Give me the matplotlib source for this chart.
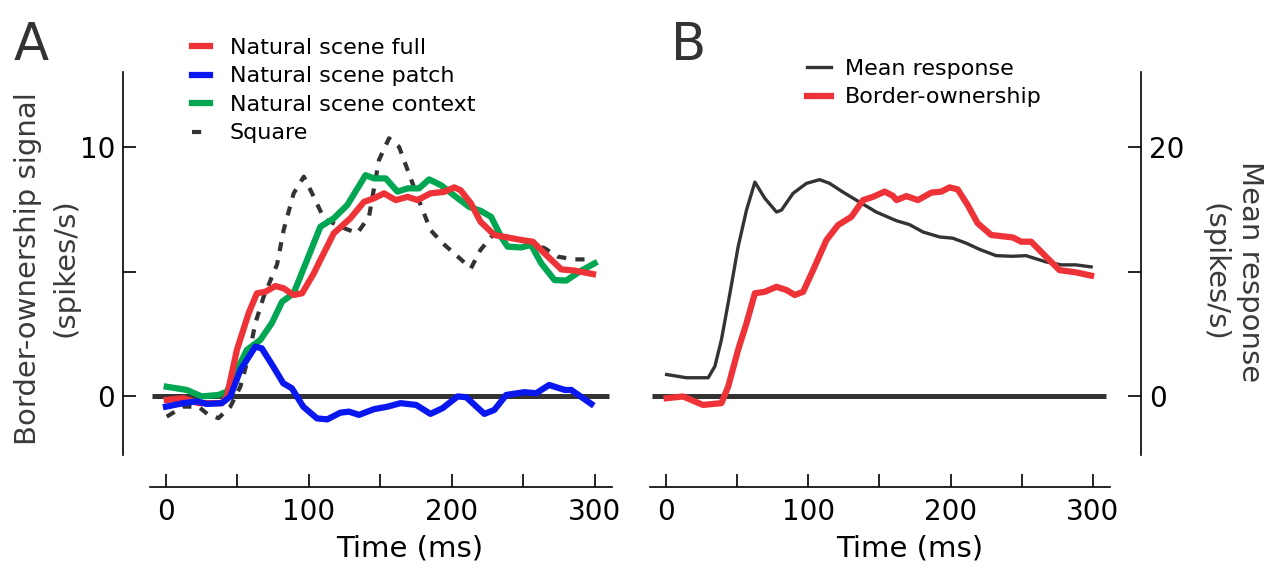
import numpy as np
import matplotlib.pyplot as plt

plt.rcParams['font.family'] = ['DejaVu Sans']
plt.rcParams['lines.solid_joinstyle'] = 'round'
plt.rcParams['lines.dash_joinstyle'] = 'round'

# --- Panel A: border-ownership signal (spikes/s) ---
full_t = [0.5, 12, 22.7, 39, 42.6, 49.6, 57.8, 63.6, 69.5, 76.5, 82.3, 89.3, 95.2, 103.4, 108, 117.4,
          129, 138.5, 145.5, 152.5, 160.7, 169, 176, 185, 194.6, 201.6, 206, 213.3, 220, 229.7, 239,
          248.4, 256.6, 264.8, 276.5, 285.8, 298.7]
full_v = [-0.14, -0.07, -0.27, -0.27, 0.0, 1.87, 3.34, 4.14, 4.2, 4.43, 4.34, 4.07, 4.14, 4.94, 5.48, 6.55,
          7.15, 7.81, 7.95, 8.15, 7.88, 8.01, 7.88, 8.15, 8.21, 8.39, 8.28, 7.75, 7.01, 6.48, 6.38,
          6.28, 6.21, 5.74, 5.1, 5.05, 4.91]

patch_t = [0, 12, 21.5, 28.5, 39, 45, 52, 62.5, 67, 75, 82, 88, 96, 105.6, 112.8, 122, 128, 135, 145.5,
           155, 164, 175, 185, 193.5, 204, 210, 222.7, 229.7, 238, 250.7, 259, 268, 279, 283.5, 297.5]
patch_v = [-0.41, -0.27, -0.2, -0.3, -0.27, 0.0, 1.06, 2.0, 1.93, 1.2, 0.53, 0.33, -0.41, -0.88, -0.92,
           -0.65, -0.61, -0.74, -0.51, -0.41, -0.27, -0.34, -0.70, -0.47, 0.0, -0.03, -0.70, -0.54, 0.06,
           0.17, 0.13, 0.46, 0.26, 0.26, -0.30]

context_t = [0.5, 14.5, 25, 36.7, 42.6, 49.6, 56.6, 66, 74, 81.2, 89.3, 98.7, 108, 117.4, 126.8, 139.6,
             145.5, 153.7, 161.9, 169, 177, 184, 192.3, 202.8, 212, 220, 227.4, 234.4, 239, 248.4, 255.4,
             262.5, 271.8, 280, 289.3, 299.8]
context_v = [0.39, 0.26, 0.0, 0.06, 0.19, 1.06, 1.87, 2.27, 2.94, 3.8, 4.14, 5.48, 6.81, 7.15, 7.68, 8.88,
             8.75, 8.75, 8.22, 8.35, 8.35, 8.71, 8.48, 8.01, 7.61, 7.45, 7.21, 6.41, 6.01, 5.98, 6.08,
             5.34, 4.67, 4.65, 5.01, 5.34]

square_t = [0.5, 12, 22.7, 29.7, 36.7, 45, 52, 57.8, 62.5, 68.3, 77.7, 82.3, 89.3, 96.4, 103.4, 110.4,
            122, 133.8, 142, 149, 156, 163, 169, 176, 185, 193.5, 202.8, 213.3, 220, 229.7, 239, 255.4,
            264.8, 274, 285.8, 298.7]
square_v = [-0.81, -0.41, -0.41, -0.74, -0.87, -0.41, 0.39, 1.6, 2.94, 4.0, 5.3, 6.68, 8.15, 8.82, 8.01,
            7.15, 6.81, 6.55, 7.21, 9.49, 10.36, 10.02, 9.09, 8.01, 6.68, 6.15, 5.68, 5.14, 5.88, 6.55,
            6.41, 6.15, 5.95, 5.61, 5.5, 5.5]

# --- Panel B ---
mean_t = [0.5, 14.5, 29.7, 34.4, 39, 45, 50.7, 56.6, 62.5, 69.5, 77.7, 81.2, 89.3, 98.7, 108, 115, 124.4,
          136, 147.8, 162, 171, 180.6, 192.3, 201.6, 211, 220.4, 232, 243.7, 253, 267, 277.7, 288, 298.7]
mean_v = [1.76, 1.5, 1.5, 2.42, 4.56, 8.3, 12.0, 14.96, 17.2, 15.9, 14.8, 14.96, 16.3, 17.1, 17.4, 17.1,
          16.4, 15.6, 14.8, 14.1, 13.8, 13.2, 12.8, 12.7, 12.3, 11.8, 11.3, 11.25, 11.3, 10.8, 10.56,
          10.56, 10.4]

bo_t = [0.5, 12, 26, 39, 43.7, 50.7, 56.6, 62.5, 69.5, 77.7, 84.7, 90.5, 96.4, 103.4, 112.8, 121, 130.3,
        138.5, 145.5, 153.7, 159.5, 162, 169, 177, 186.5, 193.5, 199.3, 205, 212, 219, 228.5, 243.7,
        249.6, 256.6, 267, 276.5, 288, 298.7]
bo_v = [-0.07, 0.0, -0.34, -0.27, 0.39, 1.87, 2.94, 4.14, 4.2, 4.4, 4.27, 4.07, 4.2, 5.07, 6.28, 6.88, 7.21,
        7.88, 8.01, 8.22, 8.05, 7.88, 8.04, 7.88, 8.18, 8.22, 8.39, 8.31, 7.68, 6.95, 6.48, 6.38,
        6.21, 6.21, 5.61, 5.07, 4.98, 4.85]

red = '#ee3338'
blue = '#0a18f0'
green = '#00a651'
dark = '#333333'

W, H = 1272, 573
PT = 72 / 100  # points per pixel
fig = plt.figure(figsize=(W / 100, H / 100), dpi=100)


def px_axes(x0, x1, y0, y1):
    return fig.add_axes([x0 / W, 1 - y1 / H, (x1 - x0) / W, (y1 - y0) / H])


ylim = (-2.35, 13.02)
xlim = (-11.2, 312)
tick_kw = dict(direction='in', length=9.5, width=1.2, labelsize=20)
leg_kw = dict(loc='upper left', frameon=False, fontsize=16, labelspacing=0.38,
              borderaxespad=0, borderpad=0)

# Panel A
axA = px_axes(150, 612, 72, 455)
axA.set_xlim(xlim)
axA.set_ylim(ylim)
axA.plot([-10, 310], [0, 0], color=dark, lw=3.6, solid_capstyle='butt')
axA.plot(square_t, square_v, color=dark, lw=3, ls=(0, (2.2, 2.2)), label='Square', zorder=3)
axA.plot(context_t, context_v, color=green, lw=4.5, label='Natural scene context', zorder=4)
axA.plot(full_t, full_v, color=red, lw=4.5, label='Natural scene full', zorder=5)
axA.plot(patch_t, patch_v, color=blue, lw=4.5, label='Natural scene patch', zorder=6)
for s in ['top', 'right']:
    axA.spines[s].set_visible(False)
axA.spines['left'].set_position(('outward', 27 * PT))
axA.spines['bottom'].set_position(('outward', 32 * PT))
axA.spines['left'].set_linewidth(1.2)
axA.spines['bottom'].set_linewidth(1.2)
axA.set_yticks([0, 5, 10])
axA.set_yticklabels(['0', '', '10'])
axA.set_xticks([0, 50, 100, 150, 200, 250, 300])
axA.set_xticklabels(['0', '', '100', '', '200', '', '300'])
axA.tick_params(**tick_kw)
axA.tick_params(axis='x', pad=8)
axA.tick_params(axis='y', pad=5.5)
axA.set_xlabel('Time (ms)', fontsize=21)
axA.xaxis.set_label_coords((410 - 150) / 462, (455 - 534) / 383)
axA.set_ylabel('Border-ownership signal\n(spikes/s)', fontsize=21, color='#3a3a3a',
               linespacing=1.4)
axA.yaxis.set_label_coords((79 - 150) / 462, 0.488)
hA, lA = axA.get_legend_handles_labels()
order = [2, 3, 1, 0]
axA.legend([hA[i] for i in order], [lA[i] for i in order],
           bbox_to_anchor=(42 / 462, 1 + 34 / 383), handlelength=0.8, handletextpad=0.9,
           **leg_kw)
fig.text(14 / W, 1 - 60 / H, 'A', fontsize=37, color=dark)

# Panel B
axB = px_axes(650, 1110, 72, 455)
axB.set_xlim(xlim)
axB.set_ylim(ylim)
axB.plot([-10, 309], [0, 0], color=dark, lw=3.6, solid_capstyle='butt')
lb, = axB.plot(bo_t, bo_v, color=red, lw=4.5, label='Border-ownership', zorder=5)
for s in ['top', 'right', 'left']:
    axB.spines[s].set_visible(False)
axB.spines['bottom'].set_position(('outward', 32 * PT))
axB.spines['bottom'].set_linewidth(1.2)
axB.set_yticks([])
axB.set_xticks([0, 50, 100, 150, 200, 250, 300])
axB.set_xticklabels(['0', '', '100', '', '200', '', '300'])
axB.tick_params(**tick_kw)
axB.tick_params(axis='x', pad=8)
axB.set_xlabel('Time (ms)', fontsize=21)
axB.xaxis.set_label_coords((910 - 650) / 460, (455 - 534) / 383)

axR = axB.twinx()
axR.set_ylim(ylim[0] * 2, ylim[1] * 2)
lm, = axR.plot(mean_t, mean_v, color=dark, lw=2.4, label='Mean response', zorder=4)
for s in ['top', 'left', 'bottom']:
    axR.spines[s].set_visible(False)
axR.spines['right'].set_position(('outward', 31 * PT))
axR.spines['right'].set_linewidth(1.2)
axR.set_yticks([0, 10, 20])
axR.set_yticklabels(['0', '', '20'])
axR.tick_params(**tick_kw)
axR.tick_params(axis='y', pad=6)
axR.set_ylabel('Mean response\n(spikes/s)', fontsize=21, color='#3a3a3a', rotation=270,
               linespacing=1.35)
axR.yaxis.set_label_coords((1264 - 650) / 460, 0.478)
axB.set_zorder(axR.get_zorder() + 1)
axB.patch.set_visible(False)
axB.legend([lm, lb], ['Mean response', 'Border-ownership'],
           bbox_to_anchor=(157 / 460, 1 + 13 / 383), handlelength=1.1, handletextpad=0.6,
           **leg_kw)
fig.text(671 / W, 1 - 60 / H, 'B', fontsize=37, color=dark)

plt.savefig('out.png', dpi=100)
